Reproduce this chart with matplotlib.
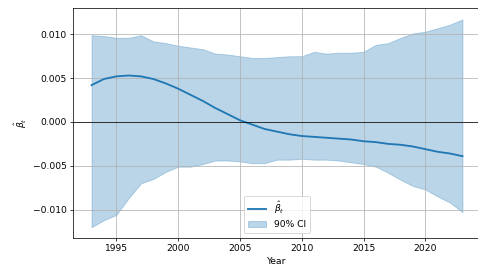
import numpy as np
import matplotlib
matplotlib.use('Agg')
import matplotlib.pyplot as plt

# Yearly estimates
years = np.arange(1993, 2024)
beta = [0.0042, 0.0049, 0.0052, 0.0053, 0.0052, 0.0049, 0.0044, 0.0038,
        0.0031, 0.0024, 0.0016, 0.0009, 0.0002, -0.0003, -0.0008, -0.0011,
        -0.0014, -0.0016, -0.0017, -0.0018, -0.0019, -0.0020, -0.0022,
        -0.0023, -0.0025, -0.0026, -0.0028, -0.0031, -0.0034, -0.0036,
        -0.0039]
ci_upper = [0.0099, 0.0098, 0.0096, 0.0096, 0.0099, 0.0092, 0.0090, 0.0087,
            0.0085, 0.0083, 0.0078, 0.0077, 0.0075, 0.0073, 0.0073, 0.0074,
            0.0075, 0.0075, 0.0080, 0.0078, 0.0079, 0.0079, 0.0080, 0.0088,
            0.0090, 0.0096, 0.0101, 0.0103, 0.0107, 0.0111, 0.0117]
ci_lower = [-0.0120, -0.0112, -0.0106, -0.0087, -0.0070, -0.0065, -0.0057,
            -0.0051, -0.0051, -0.0048, -0.0044, -0.0044, -0.0045, -0.0047,
            -0.0047, -0.0043, -0.0043, -0.0042, -0.0043, -0.0043, -0.0044,
            -0.0046, -0.0048, -0.0051, -0.0058, -0.0066, -0.0073, -0.0077,
            -0.0085, -0.0092, -0.0103]

dpi = 66
fig = plt.figure(figsize=(478 / dpi, 273 / dpi), dpi=dpi)
# axes run slightly past the right edge, as in the cropped original
ax = fig.add_axes([73 / 478, 1 - 237.7 / 273, 408 / 478, 229.7 / 273])

ax.plot(years, beta, color='C0', linewidth=2, label=r'$\hat{\beta}_t$')
ax.fill_between(years, ci_lower, ci_upper, color='C0', alpha=0.3,
                label='90% CI')
ax.axhline(0, color='black', linewidth=1, alpha=0.8)

ax.set_xlim(1991.5, 2024.5)
ax.set_ylim(-0.0132, 0.0130)
ax.set_xlabel('Year')
ax.set_ylabel(r'$\hat{\beta}_t$')
ax.grid(True)
ax.legend(loc='lower center')

fig.savefig('out.png', dpi=dpi)
